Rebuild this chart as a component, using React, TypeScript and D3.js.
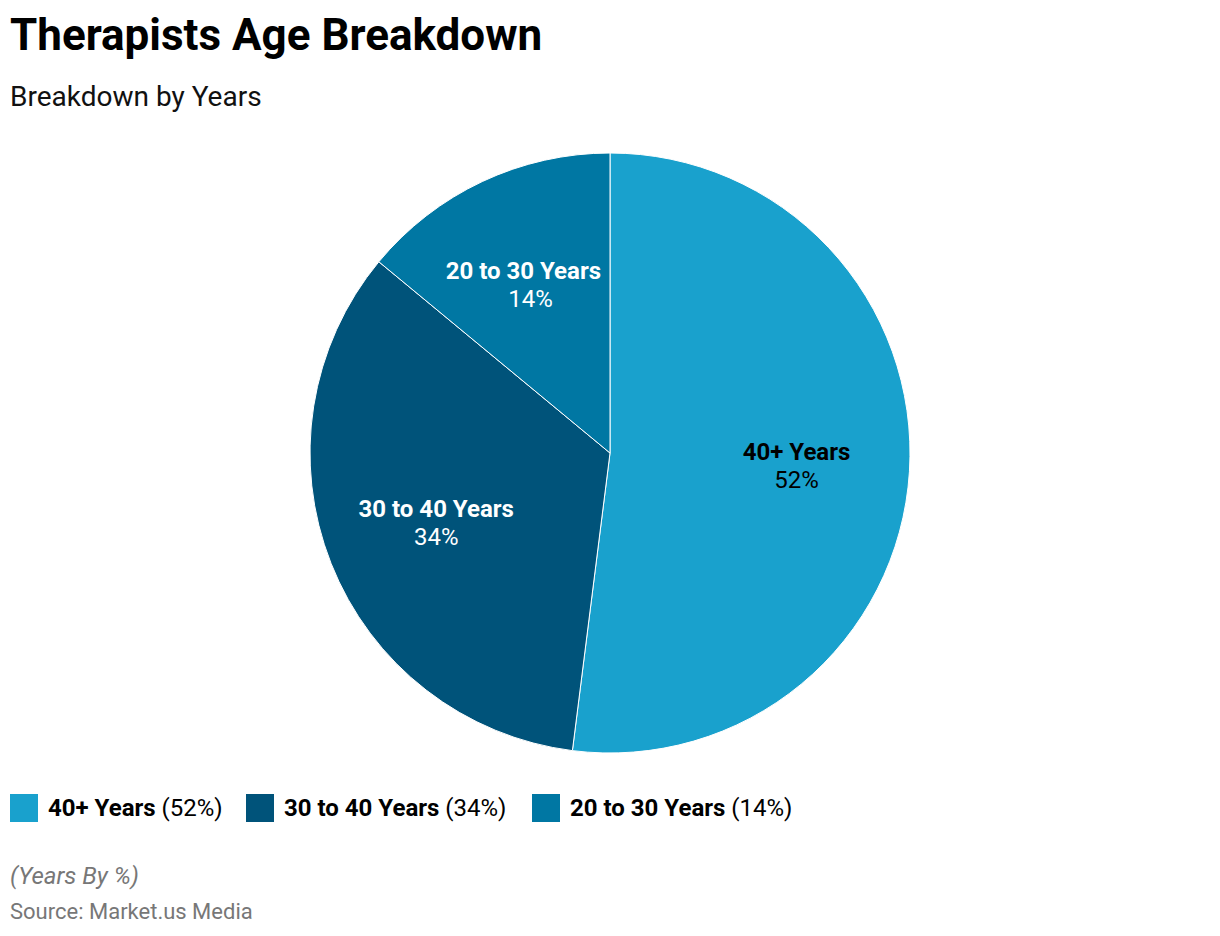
import React from "react";
import * as d3 from "d3";

const categories = ["40+ Years", "30 to 40 Years", "20 to 30 Years"];
const values = [52, 34, 14];
const colors = ["#19A1CD", "#00537A", "#0077A3"];
const labelColors = ["#000000", "#ffffff", "#ffffff"];

const W = 1220;
const H = 936;
const cx = 610;
const cy = 453;
const R = 300;

function measure(text: string, font: string): number {
  const c = document.createElement("canvas").getContext("2d");
  if (!c) return text.length * 12;
  c.font = font;
  return c.measureText(text).width;
}

export default function App() {
  const pie = d3.pie<number>().sort(null).value((d) => d)(values);
  const arc = d3.arc<d3.PieArcDatum<number>>().innerRadius(0).outerRadius(R);
  const labelArc = d3.arc<d3.PieArcDatum<number>>().innerRadius(R * 0.623).outerRadius(R * 0.623);
  const font = "Roboto, 'Noto Sans', sans-serif";

  const legendX = [10, 246, 532];

  return (
    <svg width={W} height={H} style={{ position: "absolute", left: 0, top: 0, fontFamily: font }}>
      <rect width={W} height={H} fill="#fff" />
      <text x={10} y={50} fontSize={44} fontWeight={700} fill="#000">Therapists Age Breakdown</text>
      <text x={10} y={106} fontSize={28} fill="#111">Breakdown by Years</text>
      <g transform={`translate(${cx},${cy})`}>
        {pie.map((p, i) => (
          <path key={i} d={arc(p) || ""} fill={colors[i]} stroke="#fff" strokeWidth={1} />
        ))}
        {pie.map((p, i) => {
          const [x0, y] = labelArc.centroid(p);
          let x = x0;
          // keep labels of left-side slices clear of the vertical divider
          if (p.startAngle >= Math.PI) {
            const half = measure(categories[i], "bold 24px Roboto") / 2;
            if (x + half > -9) x = -9 - half;
          }
          return (
            <g key={"l" + i} fill={labelColors[i]} textAnchor="middle" fontSize={24}>
              <text x={x} y={y - 5} fontWeight={700}>{categories[i]}</text>
              <text x={x0} y={y + 23}>{values[i]}%</text>
            </g>
          );
        })}
      </g>
      {categories.map((c, i) => (
        <g key={"lg" + i} transform={`translate(${legendX[i]},794)`}>
          <rect width={28} height={28} fill={colors[i]} />
          <text x={38} y={22} fontSize={24} fill="#000">
            <tspan fontWeight={700}>{c}</tspan>
            <tspan> ({values[i]}%)</tspan>
          </text>
        </g>
      ))}
      <text x={10} y={884} fontSize={24} fontStyle="italic" fill="#777">(Years By %)</text>
      <text x={10} y={919} fontSize={22} fill="#777">Source: Market.us Media</text>
    </svg>
  );
}
